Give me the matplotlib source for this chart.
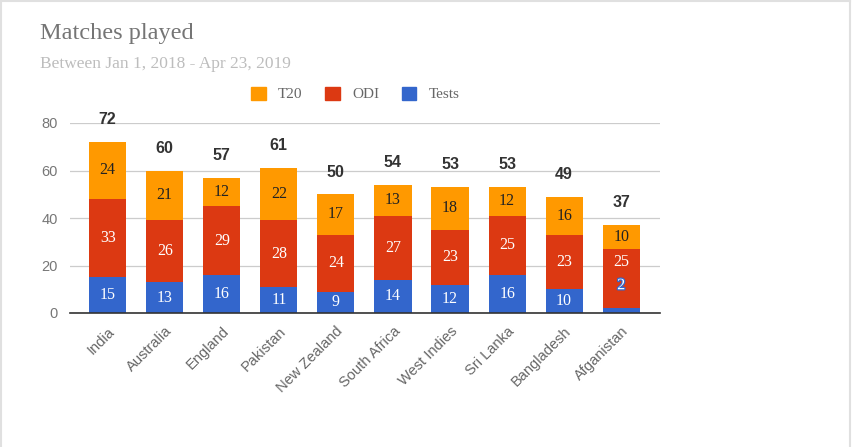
import matplotlib.pyplot as plt
import matplotlib.patheffects as pe
import numpy as np

countries = ['India', 'Australia', 'England', 'Pakistan', 'New Zealand',
             'South Africa', 'West Indies', 'Sri Lanka', 'Bangladesh', 'Afganistan']
tests = [15, 13, 16, 11, 9, 14, 12, 16, 10, 2]
odi = [33, 26, 29, 28, 24, 27, 23, 25, 23, 25]
t20 = [24, 21, 12, 22, 17, 13, 18, 12, 16, 10]
yticks = [0, 20, 40, 60, 80]

c_tests, c_odi, c_t20 = '#3366cc', '#dc3912', '#ff9900'
serif = 'Liberation Serif'
sans = 'Liberation Sans'

fig = plt.figure(figsize=(8.52, 4.47), dpi=100)
ax = fig.add_axes([70 / 852, 1 - 313 / 447, 590 / 852, 190 / 447])
ax.set_xlim(-0.66, 9.68)
ax.set_ylim(0, 80)

x = np.arange(len(countries))
w = 0.65
tests = np.array(tests)
odi = np.array(odi)
t20 = np.array(t20)

px_per_unit = 190 / 80
gap = 23 / px_per_unit      # min spacing between stacked labels, in data units
last_label = np.full(len(x), -np.inf)

series = [(tests, np.zeros(len(x)), c_tests, 'white'),
          (odi, tests, c_odi, 'white'),
          (t20, tests + odi, c_t20, '#222222')]
for vals, bottom, col, tcol in series:
    bars = ax.bar(x, vals, w, bottom=bottom, color=col, zorder=3)
    for i, (b, v, b0) in enumerate(zip(bars, vals, bottom)):
        xc = b.get_x() + b.get_width() / 2
        if v >= 5:
            y = max(b0 + v / 2, last_label[i] + gap)
            ax.text(xc, y, str(v), ha='center', va='center', color=tcol,
                    fontsize=11.5, family=serif, zorder=4)
        else:
            # too small to fit: label sits above the segment
            y = b0 + v + gap
            ax.text(xc, y, str(v), ha='center', va='center', color='white',
                    fontsize=11.5, family=serif, zorder=4,
                    path_effects=[pe.withStroke(linewidth=1.8, foreground=col)])
        last_label[i] = y

totals = tests + odi + t20
for xi, t in zip(x, totals):
    ax.annotate(str(t), (xi, t), xytext=(0, 16), textcoords='offset points',
                ha='center', va='center', fontsize=11.5, fontweight='bold',
                color='#333333', family=sans)

ax.set_yticks(yticks)
ax.set_yticklabels([str(v) for v in yticks], family=sans, color='#777777', fontsize=10.5)
ax.set_xticks(x)
ax.set_xticklabels(countries, rotation=45, ha='right', rotation_mode='anchor',
                   family=sans, color='#666666', fontsize=10.5)
ax.tick_params(axis='both', length=0)
ax.tick_params(axis='x', pad=8)
ax.tick_params(axis='y', pad=9)
ax.grid(axis='y', color='#cccccc', linewidth=0.9, zorder=0)
for s in ['top', 'right', 'left']:
    ax.spines[s].set_visible(False)
ax.spines['bottom'].set_color('#333333')
ax.spines['bottom'].set_linewidth(1.2)
ax.spines['bottom'].set_zorder(5)

fig.text(40 / 852, 1 - 34 / 447, 'Matches played', family=serif, fontsize=17.5,
         color='#757575', va='center')
fig.text(40 / 852, 1 - 64 / 447, 'Between Jan 1, 2018 - Apr 23, 2019', family=serif,
         fontsize=12.5, color='#bdbdbd', va='center')

# legend
handles = [plt.Rectangle((0, 0), 1, 1, color=c) for c in (c_t20, c_odi, c_tests)]
leg = fig.legend(handles, ['T20', 'ODI', 'Tests'], loc='center left',
                 bbox_to_anchor=(251 / 852, 1 - 94 / 447), ncol=3, frameon=False,
                 prop={'family': serif, 'size': 11}, handlelength=0.95,
                 handleheight=0.95, columnspacing=1.5, handletextpad=0.8,
                 borderaxespad=0, borderpad=0)
for t in leg.get_texts():
    t.set_color('#666666')

# light frame around the card (no bottom edge)
for xs, ys in [([0.001, 0.001], [0, 0.998]), ([0.001, 0.998], [0.998, 0.998]),
               ([0.998, 0.998], [0, 0.998])]:
    fig.add_artist(plt.Line2D(xs, ys, transform=fig.transFigure,
                              color='#e0e0e0', linewidth=1.5))

fig.savefig('out.png', dpi=100)
